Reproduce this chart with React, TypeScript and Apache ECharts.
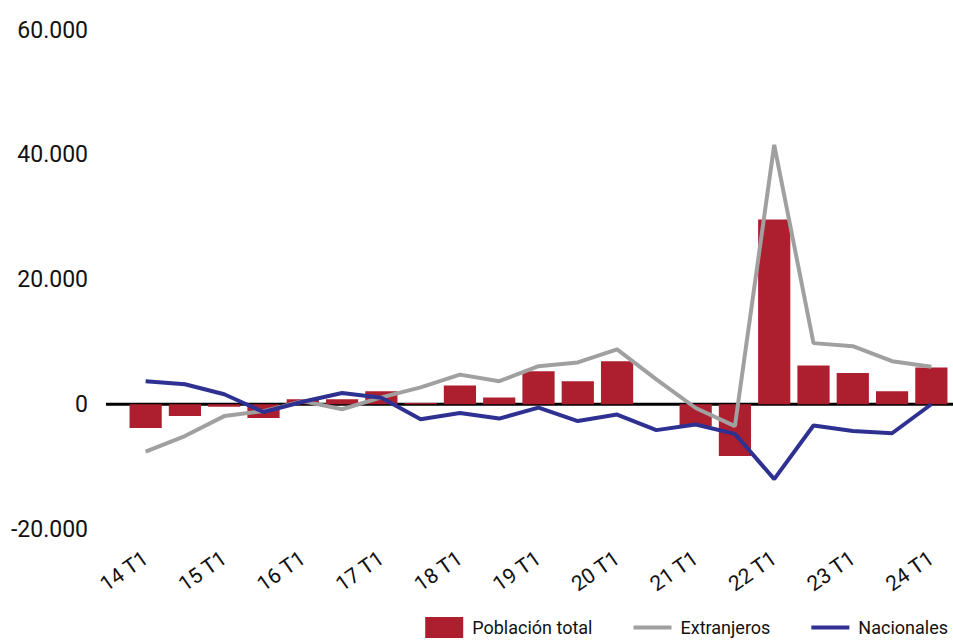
import React, { useEffect, useRef } from "react";
import * as echarts from "echarts";

// Semiannual periods (T1 and T3 of each year)
const periods = [
  "14 T1", "14 T3", "15 T1", "15 T3", "16 T1", "16 T3", "17 T1", "17 T3",
  "18 T1", "18 T3", "19 T1", "19 T3", "20 T1", "20 T3", "21 T1", "21 T3",
  "22 T1", "22 T3", "23 T1", "23 T3", "24 T1",
];

// Interannual change in population
const poblacionTotal = [
  -3800, -1900, -400, -2200, 800, 800, 2100, 200, 3000, 1100, 5300,
  3700, 6900, 0, -3500, -8300, 29600, 6200, 5000, 2100, 5900,
];
const extranjeros = [
  -7600, -5100, -1900, -1100, 500, -800, 1100, 2700, 4750, 3700, 6100,
  6700, 8800, 4000, -600, -3500, 41600, 9800, 9300, 6900, 6000,
];
const nacionales = [
  3700, 3200, 1600, -1250, 400, 1800, 1050, -2400, -1400, -2300, -550,
  -2700, -1650, -4150, -3250, -4750, -12000, -3400, -4300, -4650, 0,
];

const yTicks = { min: -20000, max: 60000, interval: 20000 };

const RED = "#AD1F2F";
const GREY = "#A0A0A0";
const BLUE = "#2E3192";
const FONT = "Roboto";
const LINE_ICON = "path://M0,0L38,0L38,4L0,4Z";

const fmt = (v: number) =>
  v === 0 ? "0" : (v < 0 ? "-" : "") + Math.abs(v).toString().replace(/\B(?=(\d{3})+(?!\d))/g, ".");

export default function App() {
  const ref = useRef<HTMLDivElement>(null);

  useEffect(() => {
    if (!ref.current) return;
    const chart = echarts.init(ref.current, null, { renderer: "svg" });
    chart.setOption({
      animation: false,
      backgroundColor: "#ffffff",
      textStyle: { fontFamily: FONT },
      grid: { left: 126, right: 2, top: 30, bottom: 115, containLabel: false },
      legend: {
        right: 0,
        bottom: 1,
        itemWidth: 38,
        itemHeight: 21,
        itemGap: 41,
        textStyle: { fontFamily: FONT, fontSize: 18, color: "#111", padding: [0, 0, 0, 4] },
        data: [
          { name: "Población total", icon: "rect" },
          { name: "Extranjeros", icon: LINE_ICON },
          { name: "Nacionales", icon: LINE_ICON },
        ],
      },
      xAxis: {
        type: "category",
        data: periods,
        axisLine: { show: false, onZero: false },
        axisTick: { show: false },
        axisLabel: {
          interval: 1,
          rotate: 35,
          margin: 27,
          fontSize: 21,
          color: "#111",
          fontFamily: FONT,
        },
      },
      yAxis: {
        type: "value",
        min: yTicks.min,
        max: yTicks.max,
        interval: yTicks.interval,
        splitLine: { show: false },
        axisLine: { show: false },
        axisTick: { show: false },
        axisLabel: {
          margin: 38,
          fontSize: 23,
          color: "#111",
          fontFamily: FONT,
          formatter: fmt,
        },
      },
      series: [
        {
          name: "Población total",
          type: "bar",
          data: poblacionTotal,
          barCategoryGap: "18%",
          itemStyle: { color: RED },
        },
        {
          name: "Extranjeros",
          type: "line",
          data: extranjeros,
          symbol: "none",
          lineStyle: { color: GREY, width: 4 },
          itemStyle: { color: GREY },
        },
        {
          name: "Nacionales",
          type: "line",
          data: nacionales,
          symbol: "none",
          lineStyle: { color: BLUE, width: 4 },
          itemStyle: { color: BLUE },
        },
      ],
    });

    // Horizontal zero line, placed through the value axis scale
    const y0 = chart.convertToPixel({ yAxisIndex: 0 }, 0) as number;
    chart.setOption({
      graphic: [
        {
          type: "line",
          z: 1,
          shape: { x1: 106, y1: y0, x2: 953, y2: y0 },
          style: { stroke: "#000", lineWidth: 3 },
          silent: true,
        },
      ],
    });

    return () => chart.dispose();
  }, []);

  return <div ref={ref} style={{ width: 953, height: 644, position: "absolute", left: 0, top: 0 }} />;
}
